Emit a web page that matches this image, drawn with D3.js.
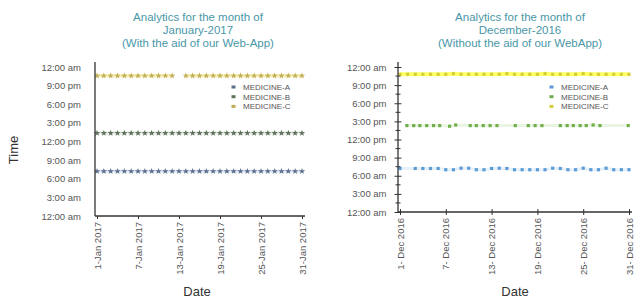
<!DOCTYPE html>
<html><head><meta charset="utf-8">
<script src="https://cdn.jsdelivr.net/npm/d3@7"></script>
<style>body{margin:0;background:#fff}svg{display:block;font-family:"Liberation Sans",Arial,sans-serif}</style>
</head><body><svg id="c" width="636" height="298"></svg>
<script>
// ---- data ----
const timeTicks = [0, 3, 6, 9, 12, 15, 18, 21, 24];
const timeTickLabels = ["12:00 am","3:00 am","6:00 am","9:00 am","12:00 pm","3:00 pm","6:00 pm","9:00 pm","12:00 am"];
const seriesNames = ["MEDICINE-A","MEDICINE-B","MEDICINE-C"];

// January 2017 (day of month, hour of day)
const janDays = [1,2,3,4,5,6,7,8,9,10,11,12,13,14,15,16,17,18,19,20,21,22,23,24,25,26,27,28,29,30,31];
const janA = [7.2,7.2,7.2,7.2,7.2,7.2,7.2,7.2,7.2,7.2,7.2,7.2,7.2,7.2,7.2,7.2,7.2,7.2,7.2,7.2,7.2,7.2,7.2,7.2,7.2,7.2,7.2,7.2,7.2,7.2,7.2];
const janB = [13.35,13.35,13.35,13.35,13.35,13.35,13.35,13.35,13.35,13.35,13.35,13.35,13.35,13.35,13.35,13.35,13.35,13.35,13.35,13.35,13.35,13.35,13.35,13.35,13.35,13.35,13.35,13.35,13.35,13.35,13.35];
const janC = [22.6,22.6,22.6,22.6,22.6,22.6,22.6,22.6,22.6,22.6,22.6,22.6,null,22.6,22.6,22.6,22.6,22.6,22.6,22.6,22.6,22.6,22.6,22.6,22.6,22.6,22.6,22.6,22.6,22.6,22.6];
const janTickDays = [1,7,13,19,25,31];
const janTickLabels = ["1-Jan 2017","7-Jan 2017","13-Jan 2017","19-Jan 2017","25-Jan 2017","31-Jan 2017"];

// December 2016
const decDaysA = [1,3,4,5,6,7,8,9,10,11,12,13,14,15,16,17,18,19,20,21,22,23,24,25,26,27,28,29,30,31];
const decA = [7.2,7.2,7.2,7.2,7.2,7.0,7.0,7.25,7.25,7.0,7.0,7.2,7.25,7.2,7.0,7.0,7.0,7.0,7.0,7.25,7.2,7.0,7.0,7.25,7.0,7.0,7.25,7.0,7.0,7.0];
const decDaysB = [1.9,2.8,3.6,4.5,5.4,6.2,7.5,8.3,10.2,11.0,11.9,12.8,13.7,16.1,17.8,18.7,19.6,22.0,22.9,23.7,24.6,25.4,26.3,27.2,30.9];
const decB = [14.3,14.3,14.3,14.3,14.3,14.3,14.2,14.4,14.3,14.3,14.3,14.3,14.3,14.3,14.3,14.3,14.3,14.3,14.3,14.3,14.3,14.3,14.4,14.3,14.3];
const decDaysC = [1,2,3,4,5,6,7,8,9,10,11,12,13,14,15,16,17,18,19,20,21,22,23,24,25,26,27,28,29,30,31];
const decC = [22.8,22.8,22.8,22.8,22.8,22.8,22.8,22.9,22.8,22.8,22.8,22.8,22.8,22.8,22.9,22.8,22.8,22.8,22.8,22.9,22.8,22.8,22.8,22.8,22.9,22.8,22.8,22.8,22.8,22.8,22.8];
const decTickDays = [1,7,13,19,25,31];
const decTickLabels = ["1- Dec 2016","7- Dec 2016","13- Dec 2016","19- Dec 2016","25- Dec 2016","31- Dec 2016"];

const svg = d3.select("#c");

function panel(cfg){
  const g = svg.append("g");
  const x = d3.scaleLinear().domain([1,31]).range([cfg.x0, cfg.x1]);
  const y = d3.scaleLinear().domain([0,24]).range([cfg.yb, cfg.yt]);
  // title
  const t = g.append("text").attr("text-anchor","middle").attr("fill","#4897a8").attr("font-size",11.5);
  cfg.title.forEach((s,i)=> t.append("tspan").attr("x",cfg.tx).attr("y",21+i*13).text(s));
  // series lines (glow) and markers
  cfg.series.forEach((s,si)=>{
    const pts = s.days.map((d,i)=>({d, v:s.vals[i]}));
    const line = d3.line().defined(p=>p.v!=null).x(p=>x(p.d)).y(p=>y(p.v));
    g.append("path").datum(pts).attr("d",line).attr("fill","none")
      .attr("stroke",s.glow).attr("stroke-width",s.glowW).attr("opacity",s.glowO);
    g.selectAll(null).data(pts.filter(p=>p.v!=null)).enter().append("path")
      .attr("d",d3.symbol().type(cfg.sym).size(cfg.symSize))
      .attr("transform",p=>`translate(${x(p.d)},${y(p.v)})`)
      .attr("fill",s.color);
  });
  // y axis
  const ya = d3.axisLeft(y).tickValues(timeTicks).tickFormat((d,i)=>timeTickLabels[i]).tickSize(cfg.yTick).tickPadding(cfg.yPad);
  const yg = g.append("g").attr("transform",`translate(${cfg.ax},0)`).call(ya);
  yg.select(".domain").attr("stroke","#333").attr("stroke-width",1.3).attr("d",`M0,${cfg.yt-5}V${cfg.yb}`);
  yg.selectAll(".tick line").attr("stroke","#333").attr("x2",cfg.yTick?cfg.yTick:0).attr("x1",cfg.yTick?-cfg.yTick:0);
  yg.selectAll(".tick text").attr("fill","#555").attr("font-size",9.5).attr("font-family","Liberation Sans, Arial, sans-serif");
  if(cfg.minor){
    g.selectAll(null).data(timeTicks.slice(0,-1)).enter().append("line")
      .attr("x1",cfg.ax-2.5).attr("x2",cfg.ax+2.5).attr("y1",d=>y(d+1.5)).attr("y2",d=>y(d+1.5)).attr("stroke","#333");
  }
  // x axis
  const xa = d3.axisBottom(x).tickValues(cfg.xTicks).tickFormat((d,i)=>cfg.xLabels[i]).tickSize(3).tickPadding(4);
  const xg = g.append("g").attr("transform",`translate(0,${cfg.yb})`).call(xa);
  xg.select(".domain").attr("stroke","#333").attr("stroke-width",1.3).attr("d",`M${cfg.ax},0H${cfg.x1+3}`);
  xg.selectAll(".tick line").attr("stroke","#333").attr("y1",cfg.xCross?-3:0);
  xg.selectAll(".tick text").attr("fill","#555").attr("font-size",9.5).attr("font-family","Liberation Sans, Arial, sans-serif")
    .attr("transform","rotate(-90)").attr("text-anchor","end").attr("x",-6).attr("y",0).attr("dy","0.32em");
  // axis title
  g.append("text").attr("x",cfg.dx).attr("y",296).attr("text-anchor","middle").attr("font-size",13).attr("fill","#333").text("Date");
  // legend
  const lg = g.append("g");
  cfg.series.forEach((s,i)=>{
    lg.append("rect").attr("x",cfg.lx-2.5).attr("y",cfg.ly+i*9.7-1.5).attr("width",4).attr("height",3).attr("fill",s.color);
    lg.append("text").attr("x",cfg.lx+9).attr("y",cfg.ly+i*9.7).attr("dy","0.35em").attr("font-size",8)
      .attr("fill","#555").text(seriesNames[i]);
  });
}

panel({
  x0:97, x1:302, yt:67, yb:216, ax:95, tx:198,
  title:["Analytics for the month of","January-2017","(With the aid of our Web-App)"],
  sym:d3.symbolStar, symSize:13, yTick:0, yPad:14, minor:false, xCross:false,
  xTicks:janTickDays, xLabels:janTickLabels, dx:197, lx:234, ly:87,
  series:[
    {days:janDays, vals:janA, color:"#5b6f8c", glow:"#c9d6ea", glowW:3, glowO:0.6},
    {days:janDays, vals:janB, color:"#5d7259", glow:"#d4dccf", glowW:3, glowO:0.6},
    {days:janDays, vals:janC, color:"#c2ad55", glow:"#f3ea9a", glowW:3, glowO:0.8}
  ]
});
panel({
  x0:400, x1:629, yt:67, yb:212, ax:398, tx:520,
  title:["Analytics for the month of","December-2016","(Without the aid of our WebApp)"],
  sym:d3.symbolSquare, symSize:10, yTick:3.5, yPad:8, minor:true, xCross:true,
  xTicks:decTickDays, xLabels:decTickLabels, dx:515, lx:552, ly:87,
  series:[
    {days:decDaysA, vals:decA, color:"#5b9bd5", glow:"#dbe9f7", glowW:3, glowO:0.7},
    {days:decDaysB, vals:decB, color:"#6fae48", glow:"#e0efd6", glowW:3, glowO:0.7},
    {days:decDaysC, vals:decC, color:"#d5cc3a", glow:"#ffff55", glowW:4, glowO:0.9}
  ]
});
svg.append("text").attr("transform","translate(18,150) rotate(-90)").attr("text-anchor","middle")
  .attr("font-size",13).attr("fill","#333").text("Time");
</script></body></html>
